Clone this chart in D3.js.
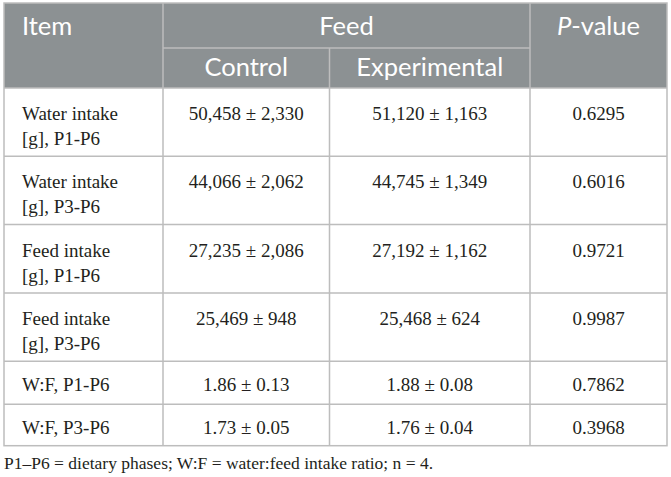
<!DOCTYPE html>
<html><head><meta charset="utf-8">
<script src="https://cdn.jsdelivr.net/npm/d3@7"></script>
<style>html,body{margin:0;padding:0;background:#fff;}</style>
</head><body>
<svg id="t" width="671" height="477"></svg>
<script>
const items = [["Water intake","[g], P1-P6"],["Water intake","[g], P3-P6"],["Feed intake","[g], P1-P6"],["Feed intake","[g], P3-P6"],["W:F, P1-P6"],["W:F, P3-P6"]];
const controlVals = ["50,458 ± 2,330","44,066 ± 2,062","27,235 ± 2,086","25,469 ± 948","1.86 ± 0.13","1.73 ± 0.05"];
const experimentalVals = ["51,120 ± 1,163","44,745 ± 1,349","27,192 ± 1,162","25,468 ± 624","1.88 ± 0.08","1.76 ± 0.04"];
const pValues = ["0.6295","0.6016","0.9721","0.9987","0.7862","0.3968"];
const groups = ["Control","Experimental"];
const footnote = "P1–P6 = dietary phases; W:F = water:feed intake ratio; n = 4.";

const svg = d3.select("#t");
const L = 4, R = 667, T0 = 3, hMid = 48, hBot = 88;
const colX = [L, 163, 329.5, 530, R];
const rowH = [68.3, 68.3, 68.3, 68.3, 43, 41.5];
const rowY = [hBot];
rowH.forEach((h,i)=>rowY.push(rowY[i]+h));
const B = rowY[rowY.length-1];
const line = "#bdbdbd";
const hdrFill = "#8c9193";
const sans = "Lato, 'Open Sans', sans-serif";
const serif = "'Liberation Serif', 'Times New Roman', serif";

svg.append("rect").attr("x",L).attr("y",T0).attr("width",R-L).attr("height",hBot-T0).attr("fill",hdrFill);

const g = svg.append("g").attr("stroke",line).attr("stroke-width",1.5).attr("fill","none");
g.append("rect").attr("x",L).attr("y",T0).attr("width",R-L).attr("height",B-T0);
g.append("line").attr("x1",colX[1]).attr("x2",colX[3]).attr("y1",hMid).attr("y2",hMid);
g.selectAll("line.h").data(rowY.slice(0,-1)).join("line").attr("class","h")
  .attr("x1",L).attr("x2",R).attr("y1",d=>d).attr("y2",d=>d);
g.append("line").attr("x1",colX[1]).attr("x2",colX[1]).attr("y1",T0).attr("y2",B);
g.append("line").attr("x1",colX[3]).attr("x2",colX[3]).attr("y1",T0).attr("y2",B);
g.append("line").attr("x1",colX[2]).attr("x2",colX[2]).attr("y1",hMid).attr("y2",B);

const ht = svg.append("g").attr("fill","#fff").attr("font-family",sans).attr("font-size",25.5);
ht.append("text").attr("x",22).attr("y",35).text("Item");
ht.append("text").attr("x",(colX[1]+colX[3])/2).attr("y",35).attr("text-anchor","middle").text("Feed");
const pv = ht.append("text").attr("x",(colX[3]+colX[4])/2).attr("y",35).attr("text-anchor","middle");
pv.append("tspan").attr("font-style","italic").text("P");
pv.append("tspan").text("-value");
ht.selectAll("text.grp").data(groups).join("text").attr("class","grp")
  .attr("x",(d,i)=>(colX[i+1]+colX[i+2])/2).attr("y",76).attr("text-anchor","middle").text(d=>d);

const bt = svg.append("g").attr("fill","#231f20").attr("font-family",serif).attr("font-size",19);
items.forEach((it,i)=>{
  const y0 = rowY[i] + (it.length>1 ? 32 : 29.5);
  const t = bt.append("text").attr("x",22).attr("y",y0);
  it.forEach((s,j)=>t.append("tspan").attr("x",22).attr("y",y0+j*25).text(s));
  [controlVals[i],experimentalVals[i],pValues[i]].forEach((v,k)=>{
    bt.append("text").attr("x",(colX[k+1]+colX[k+2])/2).attr("y",y0).attr("text-anchor","middle").text(v);
  });
});

svg.append("text").attr("x",4).attr("y",469).attr("font-family",serif).attr("font-size",17.5).attr("fill","#231f20").text(footnote);
</script>
</body></html>
